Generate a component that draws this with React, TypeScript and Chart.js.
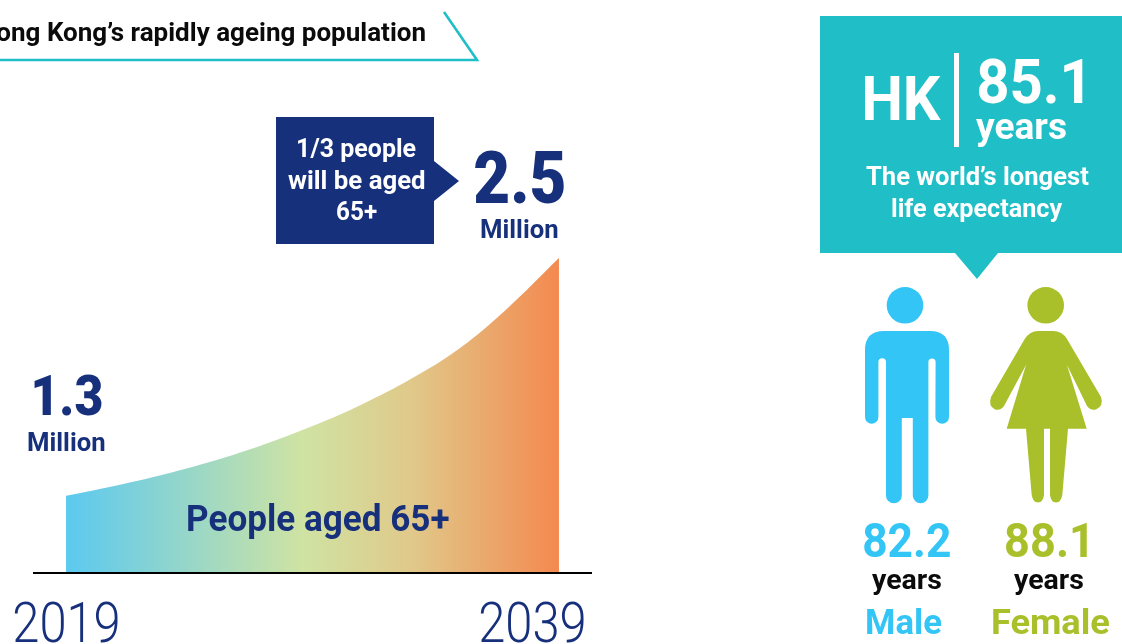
import React, { useEffect, useRef } from "react";
import { Chart, registerables } from "chart.js";

Chart.register(...registerables);

// Population aged 65+ in Hong Kong, millions
const years = [2019, 2021, 2023, 2025, 2027, 2029, 2031, 2033, 2035, 2037, 2039];
const elderlyMillions = [1.3, 1.351, 1.409, 1.477, 1.558, 1.652, 1.761, 1.89, 2.047, 2.257, 2.5];
const tickYears = [2019, 2039];

// Life expectancy, years
const lifeExpectancyAll = 85.1;
const lifeExpectancyMale = 82.2;
const lifeExpectancyFemale = 88.1;

const NAVY = "#17307C";
const TEAL = "#20BEC6";
const BLUE = "#32C5F5";
const GREEN = "#A9C02B";
const FAMILY = "Roboto, sans-serif";

type Ctx = CanvasRenderingContext2D;

// Draws one line of text so that its ink spans exactly x0..x1.
function fitText(ctx: Ctx, text: string, x0: number, x1: number, baseline: number, font: string, color: string) {
  ctx.save();
  ctx.font = font;
  ctx.fillStyle = color;
  ctx.textAlign = "left";
  ctx.textBaseline = "alphabetic";
  const m = ctx.measureText(text);
  const ink = m.actualBoundingBoxLeft + m.actualBoundingBoxRight;
  const sx = (x1 - x0) / ink;
  ctx.translate(x0 + m.actualBoundingBoxLeft * sx, baseline);
  ctx.scale(sx, 1);
  ctx.fillText(text, 0, 0);
  ctx.restore();
}

function polygon(ctx: Ctx, pts: number[][], color: string) {
  ctx.fillStyle = color;
  ctx.beginPath();
  pts.forEach(([x, y], i) => (i ? ctx.lineTo(x, y) : ctx.moveTo(x, y)));
  ctx.closePath();
  ctx.fill();
}

function drawMale(ctx: Ctx) {
  ctx.fillStyle = BLUE;
  ctx.beginPath();
  ctx.arc(905, 305.3, 18.3, 0, Math.PI * 2);
  ctx.fill();
  ctx.beginPath();
  ctx.moveTo(865, 350);
  ctx.quadraticCurveTo(865, 331, 884, 331);
  ctx.lineTo(930, 331);
  ctx.quadraticCurveTo(949, 331, 949, 350);
  ctx.lineTo(949, 417);
  ctx.arc(942.2, 417, 6.8, 0, Math.PI);
  ctx.lineTo(935.6, 362);
  ctx.arc(932, 362, 3.6, 0, Math.PI, true);
  ctx.lineTo(928.4, 495);
  ctx.arc(920.6, 495.4, 7.8, 0, Math.PI);
  ctx.lineTo(912.8, 418);
  ctx.lineTo(901.8, 418);
  ctx.lineTo(901.8, 495.4);
  ctx.arc(893.9, 495.4, 7.9, 0, Math.PI);
  ctx.lineTo(886, 362);
  ctx.arc(882.2, 362, 3.8, 0, Math.PI, true);
  ctx.lineTo(878.4, 417);
  ctx.arc(871.7, 417, 6.7, 0, Math.PI);
  ctx.closePath();
  ctx.fill();
}

function drawFemale(ctx: Ctx) {
  ctx.fillStyle = GREEN;
  ctx.beginPath();
  ctx.arc(1045.7, 305.3, 18.3, 0, Math.PI * 2);
  ctx.fill();
  ctx.beginPath();
  ctx.moveTo(1038, 331);
  ctx.lineTo(1053, 331);
  ctx.quadraticCurveTo(1062, 331, 1067, 339);
  ctx.lineTo(1101, 397);
  ctx.quadraticCurveTo(1104, 406, 1096, 409.5);
  ctx.quadraticCurveTo(1091, 411, 1087, 406);
  ctx.lineTo(1067, 365);
  ctx.lineTo(1086.7, 428.7);
  ctx.lineTo(1068, 428.7);
  ctx.lineTo(1062.3, 495);
  ctx.quadraticCurveTo(1061, 502.5, 1056, 502.5);
  ctx.quadraticCurveTo(1051, 502.5, 1050, 495);
  ctx.lineTo(1050, 428.7);
  ctx.lineTo(1044, 428.7);
  ctx.lineTo(1044, 495);
  ctx.quadraticCurveTo(1043, 502.5, 1038, 502.5);
  ctx.quadraticCurveTo(1033, 502.5, 1031.7, 495);
  ctx.lineTo(1026, 428.7);
  ctx.lineTo(1006.7, 428.7);
  ctx.lineTo(1026, 365);
  ctx.lineTo(1004, 406);
  ctx.quadraticCurveTo(1000, 411, 995, 409.5);
  ctx.quadraticCurveTo(988, 406, 991, 397);
  ctx.lineTo(1024.7, 339);
  ctx.quadraticCurveTo(1030, 331, 1038, 331);
  ctx.closePath();
  ctx.fill();
}

const infographic = {
  id: "infographic",
  afterDraw(chart: Chart) {
    const ctx = chart.ctx as Ctx;
    ctx.save();

    // Section heading with its teal underline and slanted tail
    ctx.strokeStyle = TEAL;
    ctx.lineWidth = 2.6;
    ctx.beginPath();
    ctx.moveTo(0, 60);
    ctx.lineTo(477, 60);
    ctx.lineTo(444, 12);
    ctx.stroke();
    fitText(ctx, "Hong Kong’s rapidly ageing population", -21, 425, 41, `700 25px ${FAMILY}`, "#0b0b0b");

    // Callout pointing at the 2039 figure
    polygon(ctx, [[276, 117], [434, 117], [434, 161], [459, 181], [434, 201], [434, 244], [276, 244]], NAVY);
    const body = `700 26px ${FAMILY}`;
    fitText(ctx, "1/3 people", 298, 416, 157, body, "#fff");
    fitText(ctx, "will be aged", 288, 425, 189, body, "#fff");
    fitText(ctx, "65+", 337, 377, 220, body, "#fff");

    // Start and end values of the curve
    const first = elderlyMillions[0].toFixed(1);
    const last = elderlyMillions[elderlyMillions.length - 1].toFixed(1);
    fitText(ctx, last, 475, 564, 203, `900 72px ${FAMILY}`, NAVY);
    fitText(ctx, "Million", 481, 558, 238, `700 26px ${FAMILY}`, NAVY);
    fitText(ctx, first, 34, 102, 415, `900 56px ${FAMILY}`, NAVY);
    fitText(ctx, "Million", 28, 105, 451, `700 26px ${FAMILY}`, NAVY);
    fitText(ctx, "People aged 65+", 188, 449, 531, `700 36px ${FAMILY}`, NAVY);

    const xScale = chart.scales.x;
    xScale.ticks.forEach((tick, i) => {
      const centre = xScale.getPixelForValue(tick.value) + (i === 0 ? 0 : -27);
      fitText(ctx, String(tick.label), centre - 52, centre + 52, 642, `300 56px ${FAMILY}`, NAVY);
    });

    // Life expectancy panel
    polygon(ctx, [[820, 16], [1122, 16], [1122, 253], [998, 253], [977, 279], [955, 253], [820, 253]], TEAL);
    ctx.fillStyle = "#fff";
    ctx.fillRect(954, 53, 5, 94);
    fitText(ctx, "HK", 864, 941, 120, `700 62px ${FAMILY}`, "#fff");
    fitText(ctx, lifeExpectancyAll.toFixed(1), 978, 1083, 103, `700 62px ${FAMILY}`, "#fff");
    fitText(ctx, "years", 976, 1066, 139, `700 37px ${FAMILY}`, "#fff");
    fitText(ctx, "The world’s longest", 866, 1089, 185, `700 26px ${FAMILY}`, "#fff");
    fitText(ctx, "life expectancy", 892, 1063, 217, `700 26px ${FAMILY}`, "#fff");

    drawMale(ctx);
    drawFemale(ctx);

    fitText(ctx, lifeExpectancyMale.toFixed(1), 864, 950, 557, `700 48px ${FAMILY}`, BLUE);
    fitText(ctx, "years", 872, 941, 589, `700 27px ${FAMILY}`, "#0b0b0b");
    fitText(ctx, "Male", 867, 942, 634, `700 35px ${FAMILY}`, BLUE);
    fitText(ctx, lifeExpectancyFemale.toFixed(1), 1006, 1087, 557, `700 48px ${FAMILY}`, GREEN);
    fitText(ctx, "years", 1014, 1083, 589, `700 27px ${FAMILY}`, "#0b0b0b");
    fitText(ctx, "Female", 993, 1110, 634, `700 35px ${FAMILY}`, GREEN);

    ctx.restore();
  },
};

export default function App() {
  const ref = useRef<HTMLCanvasElement>(null);

  useEffect(() => {
    const chart = new Chart(ref.current!, {
      type: "line",
      data: {
        datasets: [
          {
            label: "People aged 65+",
            data: years.map((x, i) => ({ x, y: elderlyMillions[i] })),
            borderWidth: 0,
            pointRadius: 0,
            tension: 0.4,
            fill: "origin",
            backgroundColor: (c: any) => {
              const x = c.chart.scales.x;
              const from = x ? x.getPixelForValue(2019) : NaN;
              const to = x ? x.getPixelForValue(2039) : NaN;
              if (!Number.isFinite(from) || !Number.isFinite(to)) return "#CFE3A3";
              const g = c.chart.ctx.createLinearGradient(from, 0, to, 0);
              g.addColorStop(0, "#5BC9F0");
              g.addColorStop(0.48, "#CFE3A3");
              g.addColorStop(0.7, "#E0C98A");
              g.addColorStop(1, "#F48950");
              return g;
            },
          },
        ],
      },
      options: {
        responsive: false,
        animation: false,
        layout: { padding: { left: 34, right: 531, top: 238, bottom: 71 } },
        plugins: { legend: { display: false }, tooltip: { enabled: false } },
        scales: {
          x: {
            type: "linear",
            min: 2017.7,
            max: 2040.3,
            afterBuildTicks: (scale: any) => {
              scale.ticks = tickYears.map((value) => ({ value }));
            },
            ticks: { display: false, callback: (v: any) => String(v) },
            grid: { display: false, drawTicks: false },
            border: { display: true, color: "#000", width: 2, z: 1 },
          },
          y: { display: false, min: 0.91, max: 2.601 },
        },
      },
      plugins: [infographic],
    } as any);
    return () => chart.destroy();
  }, []);

  return (
    <div style={{ position: "fixed", left: 0, top: 0, width: 1122, height: 644, overflow: "hidden", background: "#fff" }}>
      <canvas ref={ref} width={1122} height={644} style={{ display: "block" }} />
    </div>
  );
}
